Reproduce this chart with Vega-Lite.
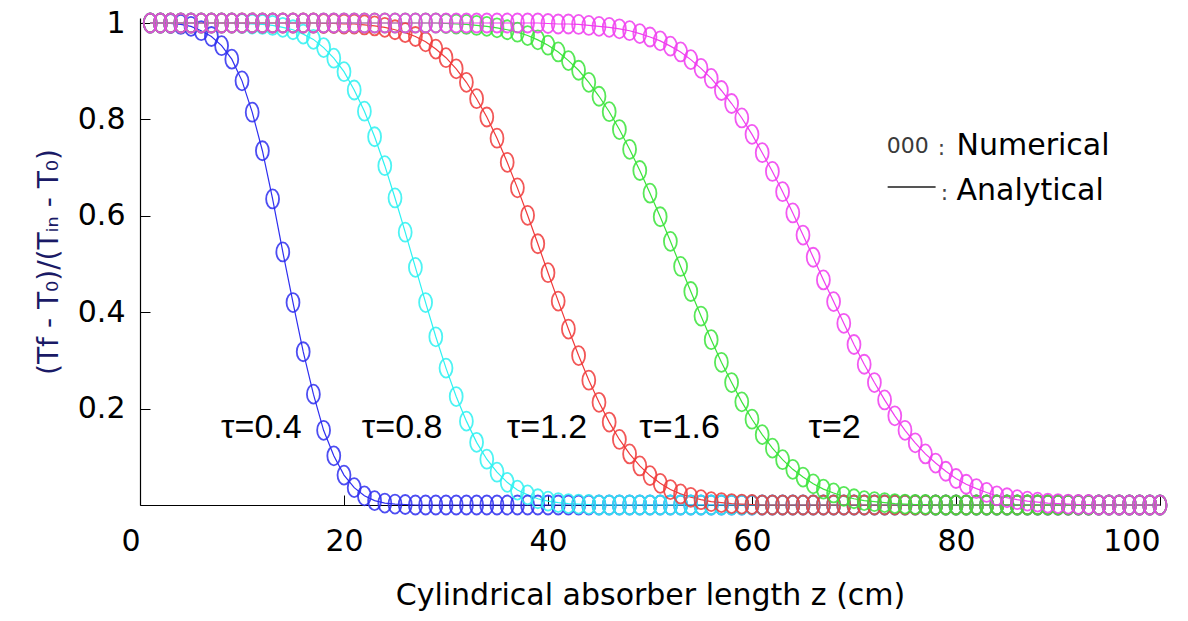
{
  "$schema": "https://vega.github.io/schema/vega-lite/v6.json",
  "width": 1020,
  "height": 487,
  "autosize": {"type": "none"},
  "padding": {"left": 140, "top": 18, "right": 28, "bottom": 116},
  "background": "white",
  "config": {"view": {"stroke": null}, "font": "DejaVu Sans"},
  "datasets": {
    "profiles": [
      {"z": 1, "t04": 1, "t08": 1, "t12": 1, "t16": 1, "t20": 1},
      {"z": 2, "t04": 1, "t08": 1, "t12": 1, "t16": 1, "t20": 1},
      {"z": 3, "t04": 0.999, "t08": 1, "t12": 1, "t16": 1, "t20": 1},
      {"z": 4, "t04": 0.997, "t08": 1, "t12": 1, "t16": 1, "t20": 1},
      {"z": 5, "t04": 0.993, "t08": 1, "t12": 1, "t16": 1, "t20": 1},
      {"z": 6, "t04": 0.984, "t08": 1, "t12": 1, "t16": 1, "t20": 1},
      {"z": 7, "t04": 0.972, "t08": 1, "t12": 1, "t16": 1, "t20": 1},
      {"z": 8, "t04": 0.953, "t08": 1, "t12": 1, "t16": 1, "t20": 1},
      {"z": 9, "t04": 0.925, "t08": 1, "t12": 1, "t16": 1, "t20": 1},
      {"z": 10, "t04": 0.880, "t08": 0.999, "t12": 1, "t16": 1, "t20": 1},
      {"z": 11, "t04": 0.815, "t08": 0.998, "t12": 1, "t16": 1, "t20": 1},
      {"z": 12, "t04": 0.735, "t08": 0.997, "t12": 1, "t16": 1, "t20": 1},
      {"z": 13, "t04": 0.635, "t08": 0.995, "t12": 1, "t16": 1, "t20": 1},
      {"z": 14, "t04": 0.525, "t08": 0.991, "t12": 1, "t16": 1, "t20": 1},
      {"z": 15, "t04": 0.420, "t08": 0.986, "t12": 1, "t16": 1, "t20": 1},
      {"z": 16, "t04": 0.318, "t08": 0.977, "t12": 1, "t16": 1, "t20": 1},
      {"z": 17, "t04": 0.230, "t08": 0.966, "t12": 1, "t16": 1, "t20": 1},
      {"z": 18, "t04": 0.155, "t08": 0.949, "t12": 0.999, "t16": 1, "t20": 1},
      {"z": 19, "t04": 0.102, "t08": 0.927, "t12": 0.999, "t16": 1, "t20": 1},
      {"z": 20, "t04": 0.062, "t08": 0.899, "t12": 0.998, "t16": 1, "t20": 1},
      {"z": 21, "t04": 0.036, "t08": 0.861, "t12": 0.998, "t16": 1, "t20": 1},
      {"z": 22, "t04": 0.019, "t08": 0.817, "t12": 0.996, "t16": 1, "t20": 1},
      {"z": 23, "t04": 0.009, "t08": 0.764, "t12": 0.994, "t16": 1, "t20": 1},
      {"z": 24, "t04": 0.004, "t08": 0.704, "t12": 0.991, "t16": 1, "t20": 1},
      {"z": 25, "t04": 0.002, "t08": 0.637, "t12": 0.986, "t16": 1, "t20": 1},
      {"z": 26, "t04": 0.001, "t08": 0.566, "t12": 0.980, "t16": 1, "t20": 1},
      {"z": 27, "t04": 0, "t08": 0.493, "t12": 0.972, "t16": 1, "t20": 1},
      {"z": 28, "t04": 0, "t08": 0.420, "t12": 0.961, "t16": 1, "t20": 1},
      {"z": 29, "t04": 0, "t08": 0.349, "t12": 0.946, "t16": 1, "t20": 1},
      {"z": 30, "t04": 0, "t08": 0.284, "t12": 0.928, "t16": 0.999, "t20": 1},
      {"z": 31, "t04": 0, "t08": 0.225, "t12": 0.905, "t16": 0.998, "t20": 1},
      {"z": 32, "t04": 0, "t08": 0.174, "t12": 0.877, "t16": 0.997, "t20": 1},
      {"z": 33, "t04": 0, "t08": 0.130, "t12": 0.843, "t16": 0.995, "t20": 1},
      {"z": 34, "t04": 0, "t08": 0.095, "t12": 0.805, "t16": 0.993, "t20": 1},
      {"z": 35, "t04": 0, "t08": 0.068, "t12": 0.761, "t16": 0.990, "t20": 1},
      {"z": 36, "t04": 0, "t08": 0.047, "t12": 0.711, "t16": 0.986, "t20": 1},
      {"z": 37, "t04": 0, "t08": 0.031, "t12": 0.658, "t16": 0.981, "t20": 1},
      {"z": 38, "t04": 0, "t08": 0.021, "t12": 0.601, "t16": 0.974, "t20": 1},
      {"z": 39, "t04": 0, "t08": 0.013, "t12": 0.542, "t16": 0.965, "t20": 1},
      {"z": 40, "t04": 0, "t08": 0.008, "t12": 0.482, "t16": 0.954, "t20": 0.999},
      {"z": 41, "t04": 0, "t08": 0.005, "t12": 0.423, "t16": 0.940, "t20": 0.998},
      {"z": 42, "t04": 0, "t08": 0.003, "t12": 0.365, "t16": 0.922, "t20": 0.998},
      {"z": 43, "t04": 0, "t08": 0.002, "t12": 0.310, "t16": 0.902, "t20": 0.997},
      {"z": 44, "t04": 0, "t08": 0.001, "t12": 0.259, "t16": 0.877, "t20": 0.995},
      {"z": 45, "t04": 0, "t08": 0, "t12": 0.213, "t16": 0.848, "t20": 0.993},
      {"z": 46, "t04": 0, "t08": 0, "t12": 0.172, "t16": 0.816, "t20": 0.991},
      {"z": 47, "t04": 0, "t08": 0, "t12": 0.136, "t16": 0.779, "t20": 0.988},
      {"z": 48, "t04": 0, "t08": 0, "t12": 0.106, "t16": 0.738, "t20": 0.984},
      {"z": 49, "t04": 0, "t08": 0, "t12": 0.081, "t16": 0.694, "t20": 0.978},
      {"z": 50, "t04": 0, "t08": 0, "t12": 0.061, "t16": 0.647, "t20": 0.971},
      {"z": 51, "t04": 0, "t08": 0, "t12": 0.045, "t16": 0.598, "t20": 0.963},
      {"z": 52, "t04": 0, "t08": 0, "t12": 0.032, "t16": 0.547, "t20": 0.952},
      {"z": 53, "t04": 0, "t08": 0, "t12": 0.023, "t16": 0.495, "t20": 0.940},
      {"z": 54, "t04": 0, "t08": 0, "t12": 0.016, "t16": 0.443, "t20": 0.924},
      {"z": 55, "t04": 0, "t08": 0, "t12": 0.011, "t16": 0.392, "t20": 0.906},
      {"z": 56, "t04": 0, "t08": 0, "t12": 0.007, "t16": 0.343, "t20": 0.885},
      {"z": 57, "t04": 0, "t08": 0, "t12": 0.005, "t16": 0.296, "t20": 0.860},
      {"z": 58, "t04": 0, "t08": 0, "t12": 0.003, "t16": 0.254, "t20": 0.833},
      {"z": 59, "t04": 0, "t08": 0, "t12": 0.002, "t16": 0.214, "t20": 0.803},
      {"z": 60, "t04": 0, "t08": 0, "t12": 0.001, "t16": 0.178, "t20": 0.769},
      {"z": 61, "t04": 0, "t08": 0, "t12": 0, "t16": 0.146, "t20": 0.731},
      {"z": 62, "t04": 0, "t08": 0, "t12": 0, "t16": 0.118, "t20": 0.692},
      {"z": 63, "t04": 0, "t08": 0, "t12": 0, "t16": 0.094, "t20": 0.650},
      {"z": 64, "t04": 0, "t08": 0, "t12": 0, "t16": 0.074, "t20": 0.606},
      {"z": 65, "t04": 0, "t08": 0, "t12": 0, "t16": 0.058, "t20": 0.560},
      {"z": 66, "t04": 0, "t08": 0, "t12": 0, "t16": 0.044, "t20": 0.514},
      {"z": 67, "t04": 0, "t08": 0, "t12": 0, "t16": 0.033, "t20": 0.467},
      {"z": 68, "t04": 0, "t08": 0, "t12": 0, "t16": 0.025, "t20": 0.422},
      {"z": 69, "t04": 0, "t08": 0, "t12": 0, "t16": 0.018, "t20": 0.377},
      {"z": 70, "t04": 0, "t08": 0, "t12": 0, "t16": 0.013, "t20": 0.333},
      {"z": 71, "t04": 0, "t08": 0, "t12": 0, "t16": 0.009, "t20": 0.292},
      {"z": 72, "t04": 0, "t08": 0, "t12": 0, "t16": 0.007, "t20": 0.254},
      {"z": 73, "t04": 0, "t08": 0, "t12": 0, "t16": 0.005, "t20": 0.218},
      {"z": 74, "t04": 0, "t08": 0, "t12": 0, "t16": 0.003, "t20": 0.185},
      {"z": 75, "t04": 0, "t08": 0, "t12": 0, "t16": 0.002, "t20": 0.155},
      {"z": 76, "t04": 0, "t08": 0, "t12": 0, "t16": 0.001, "t20": 0.129},
      {"z": 77, "t04": 0, "t08": 0, "t12": 0, "t16": 0.001, "t20": 0.106},
      {"z": 78, "t04": 0, "t08": 0, "t12": 0, "t16": 0, "t20": 0.087},
      {"z": 79, "t04": 0, "t08": 0, "t12": 0, "t16": 0, "t20": 0.070},
      {"z": 80, "t04": 0, "t08": 0, "t12": 0, "t16": 0, "t20": 0.055},
      {"z": 81, "t04": 0, "t08": 0, "t12": 0, "t16": 0, "t20": 0.043},
      {"z": 82, "t04": 0, "t08": 0, "t12": 0, "t16": 0, "t20": 0.034},
      {"z": 83, "t04": 0, "t08": 0, "t12": 0, "t16": 0, "t20": 0.026},
      {"z": 84, "t04": 0, "t08": 0, "t12": 0, "t16": 0, "t20": 0.019},
      {"z": 85, "t04": 0, "t08": 0, "t12": 0, "t16": 0, "t20": 0.015},
      {"z": 86, "t04": 0, "t08": 0, "t12": 0, "t16": 0, "t20": 0.011},
      {"z": 87, "t04": 0, "t08": 0, "t12": 0, "t16": 0, "t20": 0.008},
      {"z": 88, "t04": 0, "t08": 0, "t12": 0, "t16": 0, "t20": 0.006},
      {"z": 89, "t04": 0, "t08": 0, "t12": 0, "t16": 0, "t20": 0.004},
      {"z": 90, "t04": 0, "t08": 0, "t12": 0, "t16": 0, "t20": 0.003},
      {"z": 91, "t04": 0, "t08": 0, "t12": 0, "t16": 0, "t20": 0.002},
      {"z": 92, "t04": 0, "t08": 0, "t12": 0, "t16": 0, "t20": 0.001},
      {"z": 93, "t04": 0, "t08": 0, "t12": 0, "t16": 0, "t20": 0.001},
      {"z": 94, "t04": 0, "t08": 0, "t12": 0, "t16": 0, "t20": 0},
      {"z": 95, "t04": 0, "t08": 0, "t12": 0, "t16": 0, "t20": 0},
      {"z": 96, "t04": 0, "t08": 0, "t12": 0, "t16": 0, "t20": 0},
      {"z": 97, "t04": 0, "t08": 0, "t12": 0, "t16": 0, "t20": 0},
      {"z": 98, "t04": 0, "t08": 0, "t12": 0, "t16": 0, "t20": 0},
      {"z": 99, "t04": 0, "t08": 0, "t12": 0, "t16": 0, "t20": 0},
      {"z": 100, "t04": 0, "t08": 0, "t12": 0, "t16": 0, "t20": 0}
    ],
    "tauTags": [
      {"z": 11.9, "theta": 0.139, "label": "τ=0.4"},
      {"z": 25.7, "theta": 0.139, "label": "τ=0.8"},
      {"z": 39.9, "theta": 0.139, "label": "τ=1.2"},
      {"z": 52.9, "theta": 0.139, "label": "τ=1.6"},
      {"z": 68.1, "theta": 0.139, "label": "τ=2"}
    ],
    "keyNames": [
      {"z": 80.05, "theta": 0.726, "label": "Numerical"},
      {"z": 80.05, "theta": 0.633, "label": "Analytical"}
    ],
    "keyColons": [
      {"z": 78.2, "theta": 0.726, "label": ":"},
      {"z": 78.5, "theta": 0.633, "label": ":"}
    ],
    "keyMarker": [
      {"z": 73.2, "theta": 0.730, "label": "000"}
    ],
    "keyLine": [
      {"z": 73.3, "z2": 78.0, "theta": 0.660}
    ]
  },
  "encoding": {
    "x": {
      "field": "z",
      "type": "quantitative",
      "scale": {"domain": [0, 100], "nice": false},
      "axis": {
        "title": "Cylindrical absorber length z (cm)",
        "values": [0, 20, 40, 60, 80, 100],
        "grid": false,
        "domainColor": "black",
        "domainWidth": 1.2,
        "tickColor": "black",
        "tickWidth": 1,
        "tickSize": -10,
        "labelPadding": 31,
        "labelFont": "DejaVu Sans",
        "labelFontSize": 30,
        "labelColor": "black",
        "labelAlign": {
          "condition": {"test": "datum.value === 0 || datum.value === 100", "value": "right"},
          "value": "center"
        },
        "labelFlush": false,
        "labelOverlap": false,
        "labelBound": false,
        "titleFont": "DejaVu Sans",
        "titleFontSize": 30,
        "titleFontWeight": "normal",
        "titleColor": "black",
        "titlePadding": 24
      }
    },
    "y": {
      "field": "theta",
      "type": "quantitative",
      "scale": {"domain": [0, 1.0104], "nice": false},
      "axis": {
        "title": "(Tf - T₀)/(Tᵢₙ - T₀)",
        "values": [0.2, 0.4, 0.6, 0.8, 1],
        "format": "~g",
        "grid": false,
        "domainColor": "black",
        "domainWidth": 1.2,
        "tickColor": "black",
        "tickWidth": 1,
        "tickSize": -10,
        "labelPadding": 25,
        "labelFont": "DejaVu Sans",
        "labelFontSize": 30,
        "labelColor": "black",
        "labelOverlap": false,
        "labelBound": false,
        "titleFont": "DejaVu Sans",
        "titleFontSize": 28,
        "titleFontWeight": "normal",
        "titleColor": "#1a1a66",
        "titlePadding": 14
      }
    }
  },
  "layer": [
    {
      "data": {"name": "profiles"},
      "transform": [
        {"fold": ["t04", "t08", "t12", "t16", "t20"], "as": ["tau", "theta"]}
      ],
      "encoding": {
        "color": {
          "field": "tau",
          "type": "nominal",
          "scale": {
            "domain": ["t04", "t08", "t12", "t16", "t20"],
            "range": ["#2e2ef0", "#2ef2f2", "#f03a3a", "#3ae43a", "#f03cf0"]
          },
          "legend": null
        }
      },
      "layer": [
        {
          "mark": {"type": "line", "strokeWidth": 1.2, "clip": false}
        },
        {
          "mark": {
            "type": "point",
            "shape": "M -0.68 0 A 0.68 1 0 1 0 0.68 0 A 0.68 1 0 1 0 -0.68 0 Z",
            "size": 361,
            "filled": false,
            "strokeWidth": 1.8,
            "opacity": 0.85
          },
          "encoding": {"order": {"field": "tau", "type": "nominal"}}
        }
      ]
    },
    {
      "data": {"name": "tauTags"},
      "mark": {
        "type": "text",
        "font": "Liberation Sans",
        "fontSize": 34,
        "align": "center",
        "baseline": "alphabetic",
        "color": "black"
      },
      "encoding": {"text": {"field": "label"}}
    },
    {
      "data": {"name": "keyNames"},
      "mark": {
        "type": "text",
        "font": "DejaVu Sans",
        "fontSize": 30,
        "align": "left",
        "baseline": "alphabetic",
        "color": "black"
      },
      "encoding": {"text": {"field": "label"}}
    },
    {
      "data": {"name": "keyColons"},
      "mark": {
        "type": "text",
        "font": "DejaVu Sans",
        "fontSize": 22,
        "align": "left",
        "baseline": "alphabetic",
        "color": "#444444"
      },
      "encoding": {"text": {"field": "label"}}
    },
    {
      "data": {"name": "keyMarker"},
      "mark": {
        "type": "text",
        "font": "DejaVu Sans",
        "fontSize": 22,
        "align": "left",
        "baseline": "alphabetic",
        "color": "#3a3a3a"
      },
      "encoding": {"text": {"field": "label"}}
    },
    {
      "data": {"name": "keyLine"},
      "mark": {"type": "rule", "color": "#555555", "strokeWidth": 2},
      "encoding": {"x2": {"field": "z2"}}
    }
  ]
}
